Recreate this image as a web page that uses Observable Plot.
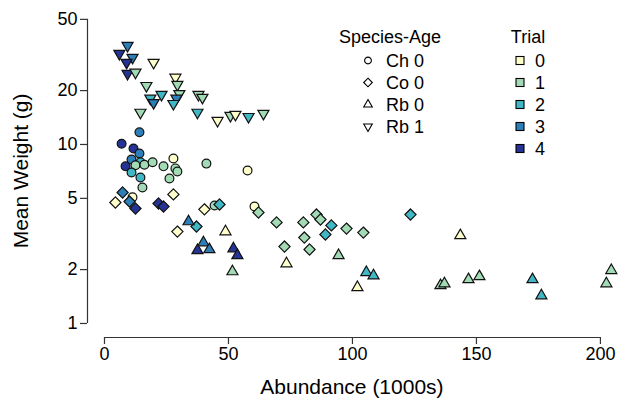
<!DOCTYPE html>
<html><head><meta charset="utf-8">
<script src="https://cdn.jsdelivr.net/npm/d3@7"></script>
<script src="https://cdn.jsdelivr.net/npm/@observablehq/plot@0.6"></script>
<style>body{margin:0;background:#fff;}</style>
</head><body><div id="chart"></div>
<script>
// ---------- data ----------
const groups = ["Ch 0", "Co 0", "Rb 0", "Rb 1"];
const trials = [0, 1, 2, 3, 4];
const trialColors = ["#FFFFCC", "#A1DAB4", "#41B6C4", "#2C7FB8", "#253494"];
const xTicks = [0, 50, 100, 150, 200];
const yTicks = [1, 2, 5, 10, 20, 50];
const xTitle = "Abundance (1000s)";
const yTitle = "Mean Weight (g)";
const groupTitle = "Species-Age";
const trialTitle = "Trial";

// Ch 0
const chX = [14.1, 6.9, 11.7, 14.1, 10.9, 14.5, 8.5, 12.5, 16.1, 19.4, 10.9, 14.5, 15.3, 23.8, 27.8, 28.6, 29.4, 26.2, 41.1, 57.7, 44.4, 60.5, 11.3];
const chY = [11.7, 10.1, 9.5, 8.9, 8.25, 7.95, 7.55, 7.65, 7.7, 7.95, 6.97, 6.54, 5.75, 7.55, 8.35, 7.35, 7.07, 6.45, 7.82, 7.15, 4.56, 4.5, 5.07];
const chT = [3, 4, 4, 3, 3, 2, 4, 1, 1, 1, 2, 2, 1, 1, 0, 1, 1, 1, 1, 0, 1, 0, 0];
// Co 0
const coX = [4.4, 7.3, 10.1, 12.5, 21.8, 23.8, 27.8, 40.3, 46.4, 62.1, 69.4, 72.6, 80.2, 80.6, 82.7, 85.5, 87.1, 91.5, 89.1, 97.6, 104.4, 123.4, 29.4, 37.1];
const coY = [4.74, 5.39, 4.8, 4.39, 4.68, 4.5, 5.26, 4.34, 4.62, 4.17, 3.67, 2.69, 3.67, 3.02, 2.59, 4.06, 3.81, 3.53, 3.14, 3.39, 3.22, 4.06, 3.26, 3.48];
const coT = [0, 3, 3, 4, 4, 4, 0, 0, 2, 1, 1, 1, 1, 1, 1, 1, 1, 2, 2, 1, 1, 2, 0, 2];
// Rb 0
const rb0X = [33.9, 73.4, 94.4, 105.6, 108.5, 102.0, 135.5, 137.1, 143.5, 146.8, 151.2, 172.6, 176.2, 204.4, 202.4, 48.8, 39.9, 37.5, 42.3, 52.0, 53.6, 51.6];
const rb0Y = [3.71, 2.16, 2.4, 1.93, 1.85, 1.59, 1.63, 1.67, 3.1, 1.76, 1.83, 1.76, 1.43, 1.98, 1.67, 3.26, 2.83, 2.56, 2.59, 2.62, 2.4, 1.95];
const rb0T = [3, 0, 1, 2, 2, 0, 1, 1, 0, 1, 1, 2, 2, 1, 1, 0, 3, 4, 3, 4, 4, 1];
// Rb 1
const rb1X = [9.3, 6.0, 11.3, 8.9, 19.8, 9.3, 12.5, 16.9, 28.6, 29.4, 23.0, 30.2, 18.5, 19.8, 29.0, 27.8, 37.9, 39.5, 14.5, 37.5, 45.6, 50.8, 52.8, 58.1, 64.1];
const rb1Y = [35.7, 32.2, 30.6, 28.7, 28.7, 24.9, 25.3, 21.3, 23.7, 21.6, 19.0, 19.2, 18.1, 17.1, 18.1, 16.9, 19.0, 18.3, 15.1, 15.1, 13.6, 14.5, 14.7, 14.3, 14.9];
const rb1T = [3, 4, 3, 4, 0, 4, 1, 1, 0, 1, 2, 1, 2, 3, 3, 2, 1, 1, 1, 2, 0, 1, 0, 2, 1];

// ---------- build table ----------
const series = [
  [groups[0], chX, chY, chT],
  [groups[1], coX, coY, coT],
  [groups[2], rb0X, rb0Y, rb0T],
  [groups[3], rb1X, rb1Y, rb1T]
];
const rows = [];
for (const [g, xs, ys, ts] of series) xs.forEach((x, i) => rows.push({group: g, abundance: x, weight: ys[i], trial: ts[i]}));

// ---------- symbols (R pch 21/23/24/25 style) ----------
const rad = s => Math.sqrt(s / Math.PI);
const symCircle = {draw(c, s) { const r = rad(s); c.moveTo(r, 0); c.arc(0, 0, r, 0, 2 * Math.PI); c.closePath(); }};
const symDiamond = {draw(c, s) { const r = rad(s) * 1.27; c.moveTo(0, -r); c.lineTo(r, 0); c.lineTo(0, r); c.lineTo(-r, 0); c.closePath(); }};
const symUp = {draw(c, s) { const r = rad(s) * 1.45, h = r * Math.sqrt(3) / 2; c.moveTo(0, -r); c.lineTo(h, r / 2); c.lineTo(-h, r / 2); c.closePath(); }};
const symDown = {draw(c, s) { const r = rad(s) * 1.45, h = r * Math.sqrt(3) / 2; c.moveTo(0, r); c.lineTo(h, -r / 2); c.lineTo(-h, -r / 2); c.closePath(); }};

const W = 620, H = 407;
const xDomain = [-6.85, 208.1];
const yDomain = [0.835, 57.5];
const font = "'Liberation Sans', Arial, sans-serif";
const axisColor = "#333";

const plot = Plot.plot({
  width: W, height: H,
  marginLeft: 87, marginRight: 0, marginTop: 8, marginBottom: 70,
  x: {domain: xDomain},
  y: {type: "log", domain: yDomain},
  color: {type: "ordinal", domain: trials, range: trialColors},
  symbol: {domain: groups, range: [symCircle, symDiamond, symUp, symDown]},
  style: {fontFamily: font, fontSize: "18px", color: "#000", background: "#fff"},
  marks: [
    Plot.ruleY([{y: yDomain[0], x1: xTicks[0], x2: xTicks[xTicks.length - 1]}], {y: "y", x1: "x1", x2: "x2", stroke: axisColor, strokeWidth: 1.2}),
    Plot.ruleX([{x: xDomain[0], y1: yTicks[0], y2: yTicks[yTicks.length - 1]}], {x: "x", y1: "y1", y2: "y2", stroke: axisColor, strokeWidth: 1.2}),
    Plot.axisX({ticks: xTicks, tickSize: 7, tickPadding: 3, label: null, tickFormat: d => String(d), stroke: axisColor, strokeWidth: 1.2}),
    Plot.axisY({ticks: yTicks, tickSize: 7, tickPadding: 3, label: null, tickFormat: d => String(d), stroke: axisColor, strokeWidth: 1.2}),
    Plot.dot(rows, {x: "abundance", y: "weight", symbol: "group", fill: "trial", stroke: "#111", strokeWidth: 1.2, r: 4.4})
  ]
});

const svg = d3.select(plot);
const xs = plot.scale("x"), ys = plot.scale("y");
// axis titles
svg.append("text").attr("x", (xs.apply(xTicks[0]) + xs.apply(xTicks[xTicks.length - 1])) / 2).attr("y", 394)
  .attr("text-anchor", "middle").attr("font-family", font).attr("font-size", 21).attr("fill", "#000").text(xTitle);
svg.append("text").attr("transform", `translate(28,${(ys.apply(yTicks[0]) + ys.apply(yTicks[yTicks.length - 1])) / 2}) rotate(-90)`)
  .attr("text-anchor", "middle").attr("font-family", font).attr("font-size", 21).attr("fill", "#000").text(yTitle);

// legends
const lg = svg.append("g").attr("font-family", font).attr("font-size", 18).attr("fill", "#000");
const rowY = i => 60.5 + i * 22;
lg.append("text").attr("x", 390).attr("y", 43).attr("text-anchor", "middle").text(groupTitle);
const legSyms = [symCircle, symDiamond, symUp, symDown];
groups.forEach((g, i) => {
  lg.append("path").attr("d", d3.symbol(legSyms[i], Math.PI * 3.4 * 3.4)()).attr("transform", `translate(368,${rowY(i)})`)
    .attr("fill", "none").attr("stroke", "#000").attr("stroke-width", 1.1);
  lg.append("text").attr("x", 386).attr("y", rowY(i) + 6.5).attr("text-anchor", "start").text(g);
});
lg.append("text").attr("x", 528).attr("y", 43).attr("text-anchor", "middle").text(trialTitle);
trials.forEach((t, i) => {
  lg.append("rect").attr("x", 516).attr("y", rowY(i) - 4).attr("width", 8).attr("height", 8)
    .attr("fill", trialColors[i]).attr("stroke", "#000").attr("stroke-width", 1.1);
  lg.append("text").attr("x", 535).attr("y", rowY(i) + 6.5).attr("text-anchor", "start").text(String(t));
});

document.getElementById("chart").appendChild(plot);
</script>
</body></html>
